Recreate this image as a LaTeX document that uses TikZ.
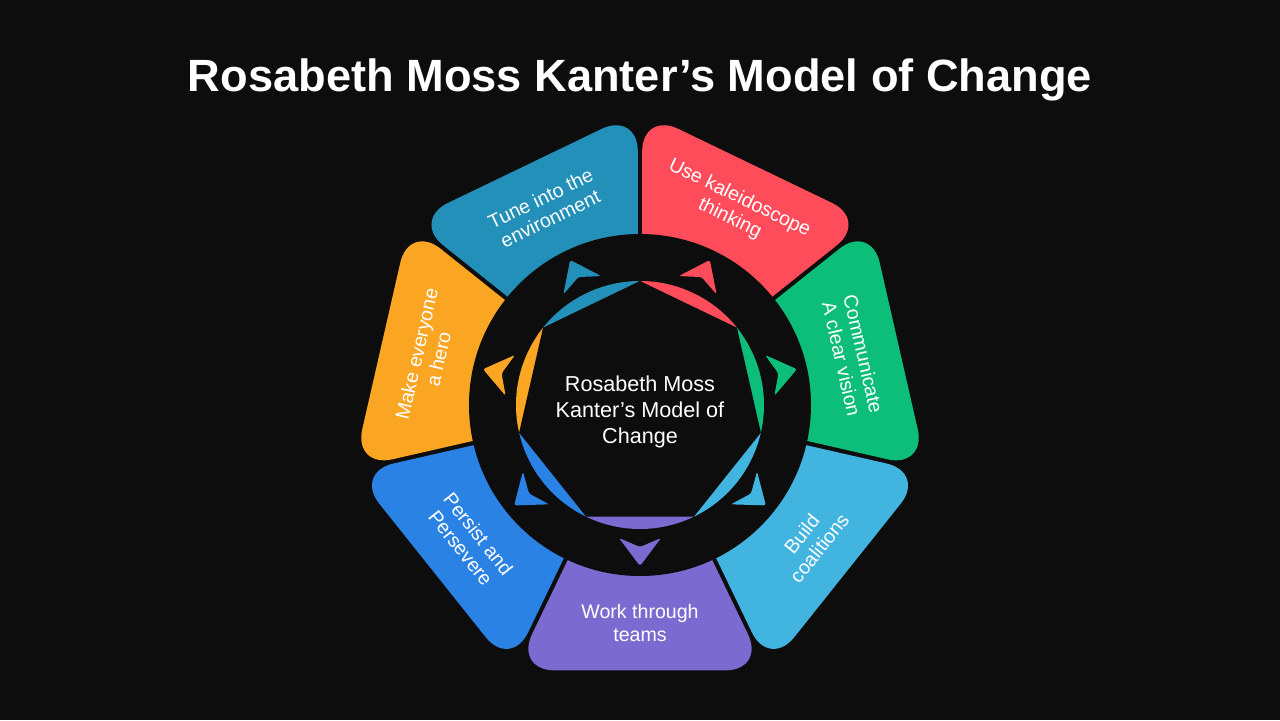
\documentclass[tikz,border=0pt]{standalone}
\usepackage{fontspec}
\setmainfont{Liberation Sans}

\definecolor{bgblack}{HTML}{0D0D0D}
\definecolor{cpurple}{HTML}{7B6BD0}
\definecolor{clight}{HTML}{42B4E0}
\definecolor{cgreen}{HTML}{0DBE7A}
\definecolor{cred}{HTML}{FF4C5B}
\definecolor{cblue}{HTML}{2290B8}
\definecolor{corange}{HTML}{FAA623}
\definecolor{cdeep}{HTML}{2A82E4}

\begin{document}
\begin{tikzpicture}[x=0.5pt,y=0.5pt,
  segtext/.style={text=white,align=center,font=\fontsize{9.8}{11.2}\selectfont},
  hubtext/.style={text=white,align=center,font=\fontsize{10.8}{13}\selectfont}]

\fill[bgblack] (-640,-315) rectangle (640,405);

\node[text=white,font=\fontsize{22.6}{26}\selectfont\bfseries] (title) at (0,325) {Rosabeth Moss Kanter’s Model of Change};

\foreach \c/\t [count=\i from 0] in {cpurple/{Work through\\teams},
    clight/{Build\\coalitions},
    cgreen/{Communicate\\A clear vision},
    cred/{Use kaleidoscope\\thinking},
    cblue/{Tune into the\\environment},
    corange/{Make everyone\\a hero},
    cdeep/{Persist and\\Persevere}}{
\pgfmathsetmacro\a{mod(270+\i*360/7,360)}
\pgfmathsetmacro\rot{\a<180 ? \a-90 : \a+90}
\fill[\c,rounded corners=20pt,shift={(\a:5)}] (0,0) -- (\a-25.714:289) -- (\a+25.714:289) -- cycle;
\node[segtext,rotate=\rot] (seg\i) at (\a:218) {\t};
}

\fill[bgblack] (0,0) circle (171);

\foreach \c [count=\i from 0] in {cpurple,clight,cgreen,cred,cblue,corange,cdeep}{
\pgfmathsetmacro\a{270+\i*360/7}
\fill[\c] (0,0) -- (\a-25.714:124) arc[start angle=\a-25.714,end angle=\a+25.714,radius=124] -- cycle;
\fill[\c,rotate=\a,rounded corners=1.2pt] (161,0) -- (133,21) -- (142,0) -- (133,-21) -- cycle;
}

\fill[bgblack] (90:124) \foreach \k in {1,...,6}{ -- (90+\k*360/7:124)} -- cycle;

\node[hubtext] (hub) at (0,-7) {Rosabeth Moss\\Kanter’s Model of\\Change};

\end{tikzpicture}
\end{document}
